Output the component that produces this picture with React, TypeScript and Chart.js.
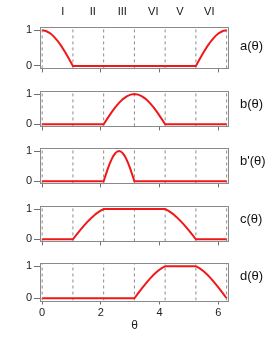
import React, { useEffect, useRef } from "react";
import { Chart, registerables } from "chart.js";

Chart.register(...registerables);

// ---------- data ----------
const SECTOR_BOUNDS = [0, 1.047, 2.094, 3.142, 4.189, 5.236, 6.283];
const SECTOR_LABELS = ["I", "II", "III", "VI", "V", "VI"];
const X_TICKS = [0, 2, 4, 6];
const Y_TICKS = [0, 1];
const PANEL_LABELS = ["a(θ)", "b(θ)", "b'(θ)", "c(θ)", "d(θ)"];
const X_TITLE = "θ";

const THETA_A = [0, 0.131, 0.262, 0.393, 0.524, 0.654, 0.785, 0.916, 1.047, 5.236, 5.367, 5.498, 5.629, 5.76, 5.89, 6.021, 6.152, 6.283];
const A_VALUES = [1, 0.981, 0.924, 0.831, 0.707, 0.556, 0.383, 0.195, 0, 0, 0.195, 0.383, 0.556, 0.707, 0.831, 0.924, 0.981, 1];

const THETA_B = [0, 2.094, 2.225, 2.356, 2.487, 2.618, 2.749, 2.88, 3.011, 3.142, 3.272, 3.403, 3.534, 3.665, 3.796, 3.927, 4.058, 4.189, 6.283];
const B_VALUES = [0, 0, 0.195, 0.383, 0.556, 0.707, 0.831, 0.924, 0.981, 1, 0.981, 0.924, 0.831, 0.707, 0.556, 0.383, 0.195, 0, 0];

const THETA_BP = [0, 2.094, 2.16, 2.225, 2.291, 2.356, 2.422, 2.487, 2.553, 2.618, 2.683, 2.749, 2.814, 2.88, 2.945, 3.011, 3.076, 3.142, 6.283];
const BP_VALUES = [0, 0, 0.195, 0.383, 0.556, 0.707, 0.831, 0.924, 0.981, 1, 0.981, 0.924, 0.831, 0.707, 0.556, 0.383, 0.195, 0, 0];

const THETA_C = [0, 1.047, 1.178, 1.309, 1.44, 1.571, 1.702, 1.833, 1.963, 2.094, 4.189, 4.32, 4.451, 4.581, 4.712, 4.843, 4.974, 5.105, 5.236, 6.283];
const C_VALUES = [0, 0, 0.16, 0.317, 0.467, 0.606, 0.731, 0.84, 0.931, 1, 1, 0.931, 0.84, 0.731, 0.606, 0.467, 0.317, 0.16, 0, 0];

const THETA_D = [0, 3.142, 3.272, 3.403, 3.534, 3.665, 3.796, 3.927, 4.058, 4.189, 5.236, 5.367, 5.498, 5.629, 5.76, 5.89, 6.021, 6.152, 6.283];
const D_VALUES = [0, 0, 0.16, 0.317, 0.467, 0.606, 0.731, 0.84, 0.931, 1, 1, 0.931, 0.84, 0.731, 0.606, 0.467, 0.317, 0.16, 0];

const SERIES = [
  { theta: THETA_A, values: A_VALUES },
  { theta: THETA_B, values: B_VALUES },
  { theta: THETA_BP, values: BP_VALUES },
  { theta: THETA_C, values: C_VALUES },
  { theta: THETA_D, values: D_VALUES },
];

// ---------- layout ----------
const W = 273;
const PLOT_LEFT = 41;
const PLOT_RIGHT = 228;
const PANEL_TOPS = [27.5, 85, 142.5, 200, 257.5];
const PANEL_H = 43;
const X_MIN = -0.04;
const X_MAX = 6.33;
const Y_MIN = -0.07;
const Y_MAX = 1.08;
const ROMAN_X = [62.7, 92.7, 122.3, 153.3, 180, 209.3];
const ROMAN_Y = 12;
const FONT = "'Liberation Sans', Arial, Helvetica, sans-serif";

Chart.defaults.font.family = FONT;

const framePlugin = {
  id: "frame",
  afterDatasetsDraw(chart: any) {
    const { ctx, chartArea: a } = chart;
    ctx.save();
    ctx.strokeStyle = "#8a8a8a";
    ctx.lineWidth = 1;
    const l = Math.round(a.left) - 0.5;
    const t = Math.round(a.top) - 0.5;
    const r = Math.round(a.right) + 0.5;
    const b = Math.round(a.bottom) + 0.5;
    ctx.strokeRect(l, t, r - l, b - t);
    ctx.restore();
  },
};

const romanPlugin = {
  id: "roman",
  afterDraw(chart: any) {
    const { ctx } = chart;
    ctx.save();
    ctx.fillStyle = "#111";
    ctx.font = `11px ${FONT}`;
    ctx.textAlign = "center";
    ctx.textBaseline = "middle";
    SECTOR_LABELS.forEach((lab, i) => ctx.fillText(lab, ROMAN_X[i], ROMAN_Y));
    ctx.restore();
  },
};

function Panel({ index }: { index: number }) {
  const ref = useRef<HTMLCanvasElement | null>(null);
  const isFirst = index === 0;
  const isLast = index === SERIES.length - 1;
  const top = PANEL_TOPS[index];
  const canvasTop = isFirst ? 0 : Math.floor(top) - 2;
  const padTop = top - canvasTop;
  const H = isLast ? 78 : Math.round(padTop + PANEL_H + 6.5);
  const xAxisH = H - padTop - PANEL_H;

  useEffect(() => {
    if (!ref.current) return;
    const s = SERIES[index];
    const datasets: any[] = [
      {
        data: s.theta.map((t, i) => ({ x: t, y: s.values[i] })),
        borderColor: "#f01818",
        borderWidth: 2,
        pointRadius: 0,
        tension: 0,
        fill: false,
      },
      ...SECTOR_BOUNDS.map((b) => ({
        data: [
          { x: b, y: Y_MIN },
          { x: b, y: Y_MAX },
        ],
        borderColor: "#8c8c8c",
        borderWidth: 1,
        borderDash: [3, 3],
        pointRadius: 0,
        fill: false,
      })),
    ];
    const chart = new Chart(ref.current, {
      type: "line",
      data: { datasets },
      plugins: isFirst ? [framePlugin, romanPlugin] : [framePlugin],
      options: {
        animation: false,
        responsive: false,
        events: [],
        layout: { padding: { top: padTop, right: W - PLOT_RIGHT, left: 0, bottom: 0 } },
        plugins: { legend: { display: false }, tooltip: { enabled: false } },
        scales: {
          x: {
            type: "linear",
            min: X_MIN,
            max: X_MAX,
            afterBuildTicks: (sc: any) => {
              sc.ticks = X_TICKS.map((v) => ({ value: v }));
            },
            afterFit: (sc: any) => {
              sc.height = xAxisH;
            },
            grid: { drawOnChartArea: false, drawTicks: true, tickLength: 4, color: "#707070" },
            border: { display: false },
            ticks: {
              display: isLast,
              color: "#222",
              font: { size: 11, family: FONT },
              padding: 2,
              maxRotation: 0,
              autoSkip: false,
            },
            title: {
              display: isLast,
              text: X_TITLE,
              color: "#222",
              font: { size: 12, family: FONT },
              padding: 0,
            },
          },
          y: {
            type: "linear",
            min: Y_MIN,
            max: Y_MAX,
            afterBuildTicks: (sc: any) => {
              sc.ticks = Y_TICKS.map((v) => ({ value: v }));
            },
            afterFit: (sc: any) => {
              sc.width = PLOT_LEFT;
            },
            grid: { drawOnChartArea: false, drawTicks: true, tickLength: 7, color: "#707070" },
            border: { display: false },
            ticks: { color: "#222", font: { size: 11, family: FONT }, padding: 2 },
          },
        },
      } as any,
    });
    return () => chart.destroy();
  }, [index]);

  return (
    <>
      <canvas
        ref={ref}
        width={W}
        height={H}
        style={{ position: "absolute", left: 0, top: canvasTop, width: W, height: H }}
      />
      <div
        style={{
          position: "absolute",
          left: 240,
          top: top + 18.5 - 8,
          height: 16,
          lineHeight: "16px",
          fontFamily: FONT,
          fontSize: 13,
          color: "#111",
          whiteSpace: "nowrap",
        }}
      >
        {PANEL_LABELS[index]}
      </div>
    </>
  );
}

export default function App() {
  return (
    <div
      style={{
        position: "fixed",
        left: 0,
        top: 0,
        width: W,
        height: 339,
        background: "#fff",
        overflow: "hidden",
      }}
    >
      {SERIES.map((_, i) => (
        <Panel key={i} index={i} />
      ))}
    </div>
  );
}
